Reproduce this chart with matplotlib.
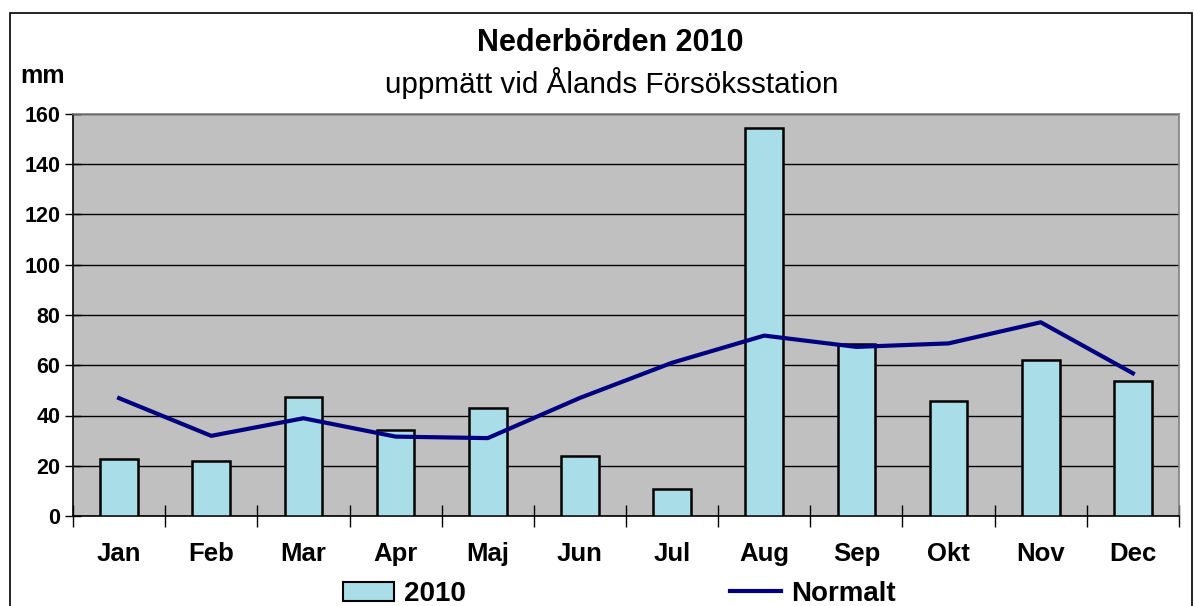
import matplotlib
matplotlib.use("Agg")
import matplotlib.pyplot as plt
from matplotlib.patches import Rectangle
from matplotlib.lines import Line2D
import numpy as np

plt.rcParams['font.family'] = ['Liberation Sans', 'DejaVu Sans']

months = ["Jan", "Feb", "Mar", "Apr", "Maj", "Jun", "Jul", "Aug", "Sep", "Okt", "Nov", "Dec"]
values_2010 = [22.6, 21.9, 47.5, 34.3, 42.8, 24.0, 10.8, 154.3, 68.6, 45.9, 62.2, 53.7]
normalt = [46.9, 31.9, 38.9, 31.6, 31.0, 47.0, 61.0, 71.8, 67.3, 68.7, 77.1, 56.8]
yticks = [0, 20, 40, 60, 80, 100, 120, 140, 160]

W, H = 1194, 606
fig = plt.figure(figsize=(W / 100, H / 100), dpi=100)
fig.patch.set_facecolor("white")

# outer border
fig.patches.append(Rectangle((10 / W, -0.02), 1182 / W, 1 - 13 / H + 0.02,
                             transform=fig.transFigure, fill=False,
                             edgecolor="black", linewidth=1.2))

ax = fig.add_axes([73 / W, 1 - 516 / H, (1179 - 73) / W, (516 - 114) / H])
ax.set_facecolor("#C0C0C0")

bar_color = "#A9DDE8"
x = np.arange(len(months)) + 0.5
ax.bar(x, values_2010, width=0.41, color=bar_color, edgecolor="black",
       linewidth=1.8, zorder=3, label="2010")
ax.plot(x, normalt, color="#000080", linewidth=3.0, zorder=4, label="Normalt")

ax.set_xlim(0, 12)
ax.set_ylim(0, 160)
ax.set_yticks(yticks)
ax.set_yticklabels([str(v) for v in yticks], fontsize=15.5, fontweight="bold")
ax.yaxis.grid(True, color="black", linewidth=1.0, zorder=1)
ax.set_axisbelow(True)

ax.set_xticks(np.arange(0, 13))
ax.set_xticklabels([])
ax.set_xticks(x, minor=True)
ax.set_xticklabels(months, minor=True, fontsize=18.5, fontweight="bold")
ax.tick_params(axis="x", which="major", direction="inout", length=16, width=1, color="black")
ax.tick_params(axis="x", which="minor", length=0, pad=19)
ax.tick_params(axis="y", direction="inout", length=12, width=1, pad=3)

for s in ["left", "bottom"]:
    ax.spines[s].set_color("black")
    ax.spines[s].set_linewidth(1.2)
for s in ["top", "right"]:
    ax.spines[s].set_color("#808080")
    ax.spines[s].set_linewidth(1.2)

fig.text(610 / W, 1 - 43 / H, "Nederbörden 2010", ha="center", va="center",
         fontsize=22, fontweight="bold")
fig.text(612 / W, 1 - 83 / H, "uppmätt vid Ålands Försöksstation", ha="center",
         va="center", fontsize=21.3)
fig.text(20 / W, 1 - 76 / H, "mm", ha="left", va="center", fontsize=18, fontweight="bold")

handles = [Rectangle((0, 0), 1, 1, facecolor=bar_color, edgecolor="black", linewidth=1.5),
           Line2D([0], [0], color="#000080", linewidth=3.0)]
leg = fig.legend(handles, ["2010", "Normalt"], loc="center", ncol=2,
                 bbox_to_anchor=(619 / W, 1 - 594 / H), frameon=False,
                 prop={"size": 20, "weight": "bold"}, columnspacing=9.5,
                 handlelength=1.85, handletextpad=0.35)

fig.savefig("out.png", dpi=100, facecolor="white")
